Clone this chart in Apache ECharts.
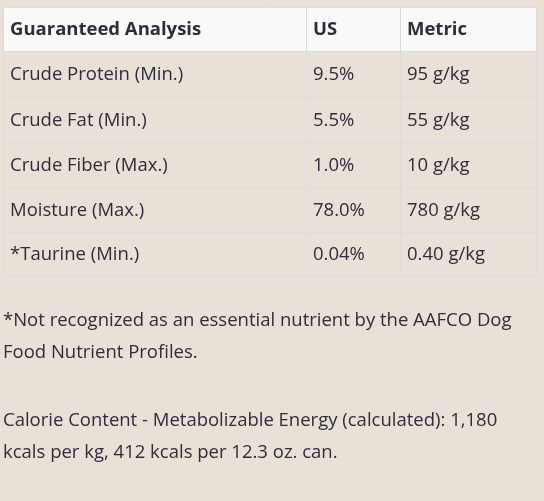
<!DOCTYPE html>
<html><head><meta charset="utf-8">
<script src="https://cdn.jsdelivr.net/npm/echarts@6/dist/echarts.min.js"></script>
<style>html,body{margin:0;padding:0;background:#e9e0d7}#c{width:544px;height:501px}</style>
</head><body><div id="c"></div>
<script>
const headers = ["Guaranteed Analysis", "US", "Metric"];
const nutrients = ["Crude Protein (Min.)", "Crude Fat (Min.)", "Crude Fiber (Max.)", "Moisture (Max.)", "*Taurine (Min.)"];
const usValues = ["9.5%", "5.5%", "1.0%", "78.0%", "0.04%"];
const metricValues = ["95 g/kg", "55 g/kg", "10 g/kg", "780 g/kg", "0.40 g/kg"];
const notes = [
  "*Not recognized as an essential nutrient by the AAFCO Dog",
  "Food Nutrient Profiles.",
  "",
  "Calorie Content - Metabolizable Energy (calculated): 1,180",
  "kcals per kg, 412 kcals per 12.3 oz. can."
];

const colX = [3, 306, 400, 536];
const rowY = [7, 51, 97, 142, 187, 232, 276];
const font = '"Open Sans", sans-serif';
const txt = '#2e2e3a';
const g = [];
g.push({type:'rect', shape:{x:colX[0], y:rowY[0], width:colX[3]-colX[0], height:rowY[1]-rowY[0]}, style:{fill:'#f9f9f9'}});
const rows = [headers].concat(nutrients.map((n,i)=>[n, usValues[i], metricValues[i]]));
rows.forEach((r,ri)=>{
  r.forEach((t,ci)=>{
    g.push({type:'text', x:colX[ci]+7, y:(rowY[ri]+rowY[ri+1])/2+1, style:{text:t, fill:txt, font:(ri===0?'bold ':'')+'18.5px '+font, verticalAlign:'middle'}});
  });
});
rowY.forEach(y=>g.push({type:'line', shape:{x1:colX[0], y1:y+0.5, x2:colX[3], y2:y+0.5}, style:{stroke:'#dcdcdc', lineWidth:1}}));
colX.forEach(x=>g.push({type:'line', shape:{x1:x+0.5, y1:rowY[0], x2:x+0.5, y2:rowY[rowY.length-1]}, style:{stroke:'#dcdcdc', lineWidth:1}}));
const noteY = [321, 353, 387, 421, 453];
notes.forEach((t,i)=>{ if(t) g.push({type:'text', x:3, y:noteY[i], style:{text:t, fill:txt, font:'18.5px '+font, verticalAlign:'middle'}}); });
const chart = echarts.init(document.getElementById('c'));
chart.setOption({backgroundColor:'#e9e0d7', graphic:g});
</script></body></html>
